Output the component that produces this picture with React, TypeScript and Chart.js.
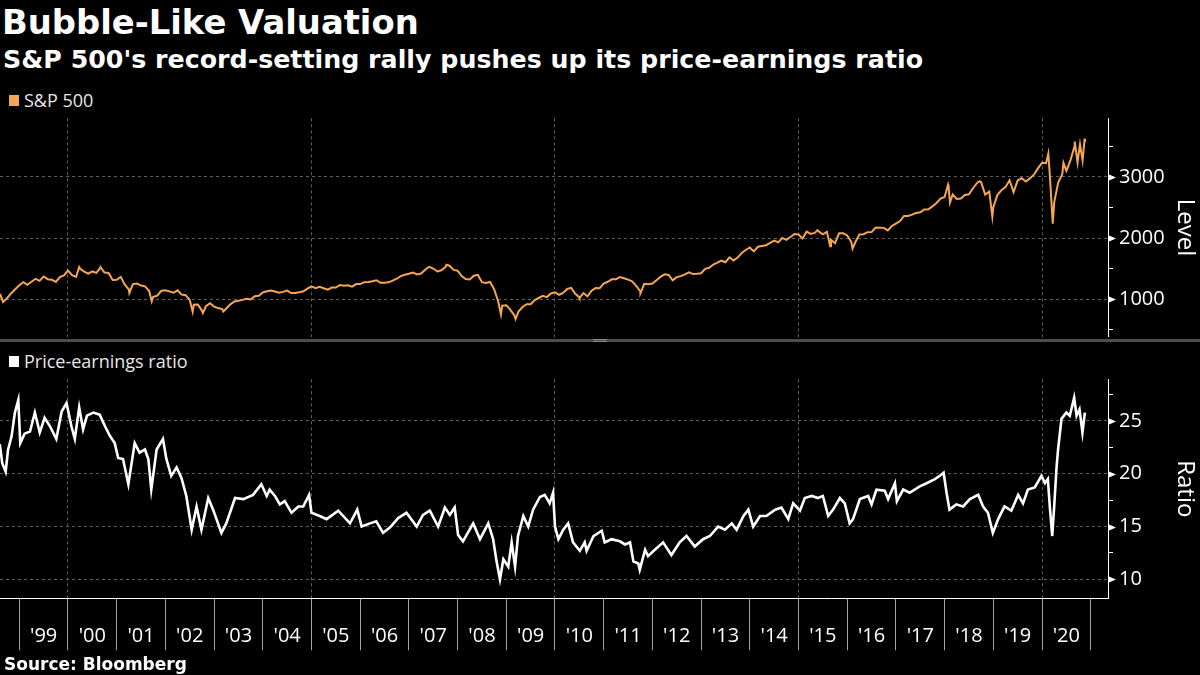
import React, { useEffect, useRef } from 'react';
import { Chart, registerables } from 'chart.js';

Chart.register(...registerables);

// ---------- axis range (decimal years) ----------
const X_MIN = 1998.604;
const X_MAX = 2021.355;

const yearTicks = [1999, 2000, 2001, 2002, 2003, 2004, 2005, 2006, 2007, 2008, 2009, 2010, 2011, 2012, 2013, 2014, 2015, 2016, 2017, 2018, 2019, 2020, 2021];
const yearLabels = ["'99", "'00", "'01", "'02", "'03", "'04", "'05", "'06", "'07", "'08", "'09", "'10", "'11", "'12", "'13", "'14", "'15", "'16", "'17", "'18", "'19", "'20"];
const gridYears = [2000, 2005, 2010, 2015, 2020];

const levelTicks = [500, 1000, 1500, 2000, 2500, 3000, 3500];
const levelLabels = ['', '1000', '', '2000', '', '3000', ''];
const levelMajor = [1000, 2000, 3000];
const ratioTicks = [10, 12.5, 15, 17.5, 20, 22.5, 25, 27.5];
const ratioLabels = ['10', '', '15', '', '20', '', '25', ''];
const ratioMajor = [10, 15, 20, 25];

// ---------- S&P 500 (month-end levels, Aug 1998 .. Oct 2020) ----------
const spxFirstYear = 1998;
const spxFirstMonth = 8;
const spxMonthEnd = [
  957, 1017, 1099, 1164, 1229,
  1280, 1238, 1286, 1335, 1302, 1373, 1329, 1320, 1283, 1363, 1389, 1469,
  1394, 1366, 1499, 1452, 1421, 1455, 1431, 1518, 1437, 1429, 1315, 1320,
  1366, 1240, 1160, 1249, 1256, 1224, 1211, 1134, 1041, 1060, 1139, 1148,
  1130, 1107, 1147, 1077, 1067, 990, 912, 916, 815, 886, 936, 880,
  856, 841, 848, 917, 964, 975, 990, 1008, 996, 1051, 1058, 1112,
  1131, 1145, 1126, 1107, 1121, 1141, 1102, 1104, 1115, 1130, 1174, 1212,
  1181, 1204, 1181, 1157, 1192, 1191, 1234, 1220, 1229, 1207, 1249, 1248,
  1280, 1281, 1295, 1311, 1270, 1270, 1277, 1304, 1336, 1378, 1401, 1418,
  1438, 1407, 1421, 1482, 1531, 1503, 1455, 1474, 1527, 1549, 1481, 1468,
  1379, 1331, 1323, 1386, 1400, 1280, 1267, 1283, 1165, 969, 896, 903,
  826, 735, 798, 873, 919, 919, 987, 1021, 1057, 1036, 1096, 1115,
  1074, 1104, 1169, 1187, 1089, 1031, 1102, 1049, 1141, 1183, 1181, 1258,
  1286, 1327, 1326, 1364, 1345, 1321, 1292, 1219, 1131, 1253, 1247, 1258,
  1312, 1366, 1408, 1398, 1310, 1362, 1379, 1407, 1441, 1412, 1416, 1426,
  1498, 1515, 1569, 1598, 1631, 1606, 1686, 1633, 1682, 1757, 1806, 1848,
  1783, 1859, 1872, 1884, 1924, 1960, 1931, 2003, 1972, 2018, 2068, 2059,
  1995, 2105, 2068, 2086, 2107, 2063, 2104, 1972, 1920, 2079, 2080, 2044,
  1940, 1932, 2060, 2065, 2097, 2099, 2174, 2171, 2168, 2126, 2199, 2239,
  2279, 2364, 2363, 2384, 2412, 2423, 2470, 2472, 2519, 2575, 2648, 2674,
  2824, 2714, 2641, 2648, 2705, 2718, 2816, 2902, 2914, 2712, 2760, 2507,
  2704, 2784, 2834, 2946, 2752, 2942, 2980, 2926, 2977, 3038, 3141, 3231,
  3226, 2954, 2585, 2912, 3044, 3100, 3271, 3500, 3363, 3270,
];
// intra-month highs / lows visible on the chart
const spxExtraDates = [1998.604, 2000.23, 2000.672, 2001.26, 2001.72, 2002.56, 2002.77, 2003.19, 2007.77, 2008.89, 2009.19, 2010.505, 2011.755, 2015.39, 2015.65, 2016.11, 2018.07, 2018.11, 2018.72, 2018.98, 2020.13, 2020.22, 2020.44, 2020.672, 2020.73, 2020.78, 2020.875, 2020.882];
const spxExtraValues = [1089, 1527, 1521, 1103, 966, 797, 777, 800, 1565, 752, 677, 1022, 1099, 2131, 1867, 1829, 2873, 2581, 2930, 2351, 3386, 2237, 3232, 3580, 3237, 3535, 3627, 3567];

// ---------- Price-earnings ratio ----------
const peDates = [
  1998.60, 1998.65, 1998.72, 1998.77, 1998.84, 1998.91, 1998.98, 1999.02, 1999.11, 1999.22, 1999.32, 1999.42, 1999.52, 1999.63, 1999.76, 1999.87, 1999.97,
  2000.07, 2000.14, 2000.23, 2000.31, 2000.39, 2000.52, 2000.65, 2000.76, 2000.86, 2000.96,
  2001.03, 2001.13, 2001.24, 2001.37, 2001.47, 2001.58, 2001.65, 2001.71, 2001.82, 2001.95,
  2002.02, 2002.12, 2002.23, 2002.33, 2002.43, 2002.54, 2002.64, 2002.74, 2002.88, 2002.98,
  2003.15, 2003.25, 2003.43, 2003.60, 2003.80, 2003.97,
  2004.08, 2004.14, 2004.25, 2004.35, 2004.45, 2004.59, 2004.73, 2004.83, 2004.95,
  2005.00, 2005.17, 2005.31, 2005.55, 2005.79, 2005.94,
  2006.03, 2006.20, 2006.33, 2006.47, 2006.61, 2006.78, 2006.95,
  2007.16, 2007.29, 2007.43, 2007.60, 2007.74, 2007.84, 2007.94,
  2008.01, 2008.11, 2008.32, 2008.46, 2008.63, 2008.73, 2008.80, 2008.87, 2008.94,
  2009.04, 2009.11, 2009.18, 2009.24, 2009.35, 2009.45, 2009.55, 2009.69, 2009.79, 2009.89, 2009.96,
  2010.00, 2010.07, 2010.17, 2010.27, 2010.37, 2010.51, 2010.61, 2010.65, 2010.79, 2010.96,
  2011.02, 2011.16, 2011.33, 2011.44, 2011.54, 2011.61, 2011.71, 2011.74, 2011.85, 2011.91,
  2012.05, 2012.22, 2012.39, 2012.56, 2012.70, 2012.87,
  2013.04, 2013.18, 2013.35, 2013.49, 2013.63, 2013.73, 2013.87, 2013.97,
  2014.07, 2014.21, 2014.34, 2014.52, 2014.65, 2014.79, 2014.89,
  2015.03, 2015.13, 2015.27, 2015.40, 2015.50, 2015.61, 2015.71, 2015.85, 2015.95,
  2016.05, 2016.12, 2016.26, 2016.43, 2016.50, 2016.60, 2016.77, 2016.84, 2016.98,
  2017.02, 2017.15, 2017.28, 2017.49, 2017.63, 2017.80, 2017.93, 2017.98,
  2018.04, 2018.10, 2018.24, 2018.38, 2018.52, 2018.69, 2018.79, 2018.89, 2018.99,
  2019.10, 2019.23, 2019.37, 2019.51, 2019.61, 2019.71, 2019.85, 2019.99,
  2020.06, 2020.12, 2020.16, 2020.21, 2020.25, 2020.30, 2020.33, 2020.40, 2020.50, 2020.57, 2020.66, 2020.71, 2020.77, 2020.83, 2020.88,
];
const peValues = [
  22.8, 21.0, 20.2, 22.3, 23.5, 25.8, 27.0, 22.9, 23.8, 24.0, 25.8, 23.9, 25.3, 24.5, 23.3, 25.9, 26.7,
  24.5, 23.3, 26.3, 24.2, 25.5, 25.8, 25.6, 24.5, 23.6, 22.9,
  21.5, 21.4, 19.0, 22.9, 22.0, 22.3, 21.4, 18.5, 22.3, 23.3,
  21.4, 19.8, 20.6, 19.6, 17.9, 14.7, 16.9, 14.7, 17.7, 16.6,
  14.4, 15.3, 17.7, 17.6, 18.0, 19.0,
  17.9, 18.5, 17.9, 17.1, 17.4, 16.3, 16.9, 16.9, 18.0,
  16.3, 16.0, 15.7, 16.5, 15.3, 16.6,
  15.0, 15.3, 15.5, 14.4, 14.9, 15.8, 16.3,
  15.0, 16.1, 16.5, 15.0, 16.8, 16.1, 16.8,
  14.2, 13.6, 15.3, 13.8, 15.3, 13.8, 11.7, 10.0, 11.9,
  11.2, 13.5, 11.2, 14.1, 16.0, 15.0, 16.6, 17.8, 18.0, 17.2, 18.2,
  15.0, 13.8, 14.7, 15.3, 13.5, 12.7, 13.5, 12.7, 14.1, 14.6,
  13.5, 13.8, 13.6, 13.3, 13.5, 11.7, 11.5, 10.9, 12.8, 12.2,
  12.8, 13.5, 12.3, 13.5, 14.1, 13.1,
  13.8, 14.1, 15.0, 14.7, 15.3, 14.7, 16.0, 16.6,
  15.0, 16.0, 16.0, 16.6, 16.8, 15.7, 17.2,
  16.5, 17.7, 17.9, 17.7, 17.9, 16.0, 16.6, 17.7, 17.2,
  15.3, 15.7, 17.6, 17.9, 17.1, 18.5, 18.4, 17.6, 19.1,
  17.4, 18.5, 18.2, 18.8, 19.1, 19.5, 19.9, 20.1,
  18.2, 16.6, 17.1, 16.9, 17.6, 18.0, 16.9, 16.3, 14.4,
  15.7, 16.9, 16.5, 18.0, 17.2, 18.5, 18.7, 19.8,
  19.1, 19.5, 16.9, 14.1, 16.9, 20.7, 22.3, 25.2, 25.8, 25.5, 27.2, 25.5, 26.1, 23.9, 25.8,
];

// ---------- styling ----------
const FONT = "'Open Sans', 'DejaVu Sans', sans-serif";
const HEAD_FONT = "'DejaVu Sans', Verdana, sans-serif";
const ORANGE = '#f6a650';
const GRID = '#5e5e5e';
const AXIS_W = 92;

const tickArrows = {
  id: 'tickArrows',
  afterDraw(chart: any, _args: any, opts: any) {
    const s = chart.scales.y;
    const ctx = chart.ctx;
    ctx.save();
    ctx.fillStyle = '#ffffff';
    for (const v of opts.values || []) {
      const y = Math.round(s.getPixelForValue(v)) + 0.5;
      const x = s.left + 1;
      ctx.beginPath();
      ctx.moveTo(x, y - 3);
      ctx.lineTo(x + 7, y);
      ctx.lineTo(x, y + 3);
      ctx.closePath();
      ctx.fill();
    }
    ctx.restore();
  },
};

function buildSpx() {
  const pts: { x: number; y: number }[] = [];
  spxMonthEnd.forEach((v, i) => {
    const m = spxFirstMonth + i;
    pts.push({ x: spxFirstYear + m / 12, y: v });
  });
  spxExtraDates.forEach((d, i) => pts.push({ x: d, y: spxExtraValues[i] }));
  pts.sort((a, b) => a.x - b.x);
  return pts;
}

function yAxis(title: string, min: number, max: number, ticks: number[], labels: string[]) {
  return {
    position: 'right',
    min,
    max,
    afterBuildTicks: (s: any) => {
      s.ticks = ticks.map((v) => ({ value: v }));
    },
    afterFit: (s: any) => {
      s.width = AXIS_W;
    },
    ticks: {
      color: '#ffffff',
      font: { family: FONT, size: 20 },
      padding: 6,
      callback: (v: number) => {
        const i = ticks.indexOf(v);
        return i >= 0 ? labels[i] : '';
      },
    },
    grid: {
      color: (ctx: any) => {
        const i = ctx.tick ? ticks.indexOf(ctx.tick.value) : -1;
        return i >= 0 && labels[i] !== '' ? GRID : 'transparent';
      },
      tickColor: '#ffffff',
      tickLength: 5,
      lineWidth: 1,
    },
    border: { display: true, color: '#ffffff', width: 1, dash: [3, 3] },
    title: {
      display: true,
      text: title,
      color: '#ffffff',
      font: { family: FONT, size: 24 },
      padding: { top: 1, bottom: 0 },
    },
  };
}

export default function App() {
  const topRef = useRef<HTMLCanvasElement>(null);
  const botRef = useRef<HTMLCanvasElement>(null);

  useEffect(() => {
    const top = new Chart(topRef.current as HTMLCanvasElement, {
      type: 'line',
      data: {
        datasets: [
          {
            label: 'S&P 500',
            data: buildSpx(),
            borderColor: ORANGE,
            borderWidth: 2,
            pointRadius: 0,
            tension: 0,
          },
        ],
      },
      options: {
        animation: false,
        responsive: false,
        maintainAspectRatio: false,
        devicePixelRatio: 1,
        layout: { padding: { top: 24.3, bottom: 24.3, left: 0, right: 0 } },
        plugins: {
          legend: { display: false },
          tooltip: { enabled: false },
          tickArrows: { values: levelMajor },
        } as any,
        scales: {
          x: {
            type: 'linear',
            min: X_MIN,
            max: X_MAX,
            afterBuildTicks: (s: any) => {
              s.ticks = gridYears.map((v) => ({ value: v }));
            },
            ticks: { display: false },
            grid: { color: GRID, drawTicks: false, lineWidth: 1 },
            border: { display: false, dash: [3, 3] },
          },
          y: yAxis('Level', 388, 3960, levelTicks, levelLabels) as any,
        },
      },
      plugins: [tickArrows],
    });

    const peData = peDates.map((d, i) => ({ x: d, y: peValues[i] }));
    const bottom = new Chart(botRef.current as HTMLCanvasElement, {
      type: 'line',
      data: {
        datasets: [
          {
            label: 'Price-earnings ratio',
            data: peData,
            borderColor: '#ffffff',
            borderWidth: 2.6,
            pointRadius: 0,
            tension: 0,
          },
        ],
      },
      options: {
        animation: false,
        responsive: false,
        maintainAspectRatio: false,
        devicePixelRatio: 1,
        layout: { padding: { top: 24.3, bottom: 0, left: 0, right: 0 } },
        plugins: {
          legend: { display: false },
          tooltip: { enabled: false },
          tickArrows: { values: ratioMajor },
        } as any,
        scales: {
          x: {
            type: 'linear',
            min: X_MIN,
            max: X_MAX,
            afterBuildTicks: (s: any) => {
              s.ticks = yearTicks.map((v) => ({ value: v }));
            },
            afterFit: (s: any) => {
              s.height = 60.7;
            },
            ticks: {
              autoSkip: false,
              maxRotation: 0,
              minRotation: 0,
              color: '#ffffff',
              font: { family: FONT, size: 20 },
              padding: -26,
              labelOffset: 24.35,
              callback: (v: number) => {
                const i = yearTicks.indexOf(v);
                return i >= 0 && i < yearLabels.length ? yearLabels[i] : '';
              },
            },
            grid: {
              color: (ctx: any) => (ctx.tick && gridYears.includes(ctx.tick.value) ? GRID : 'transparent'),
              tickColor: '#a0a0a0',
              tickLength: 52,
              lineWidth: 1,
            },
            border: { display: true, color: '#ffffff', width: 1, dash: [3, 3] },
          },
          y: yAxis('Ratio', 8.2, 28.95, ratioTicks, ratioLabels) as any,
        },
      },
      plugins: [tickArrows],
    });

    return () => {
      top.destroy();
      bottom.destroy();
    };
  }, []);

  const text: React.CSSProperties = { position: 'absolute', fontFamily: FONT, lineHeight: 1, whiteSpace: 'nowrap', margin: 0 };
  const head: React.CSSProperties = { ...text, fontFamily: HEAD_FONT, fontWeight: 700, color: '#fff' };

  return (
    <div style={{ position: 'fixed', left: 0, top: 0, width: 1200, height: 675, background: '#000', overflow: 'hidden' }}>
      <div style={{ ...head, left: 2, top: 6, fontSize: 33.8 }}>Bubble-Like Valuation</div>
      <div style={{ ...head, left: 3, top: 47, fontSize: 25.3 }}>
        S&amp;P 500's record-setting rally pushes up its price-earnings ratio
      </div>

      <div style={{ position: 'absolute', left: 9, top: 95, width: 10, height: 11, background: ORANGE }} />
      <div style={{ ...text, left: 24, top: 90.5, fontSize: 18, color: '#e6e6e6' }}>S&amp;P 500</div>

      <div style={{ position: 'absolute', left: 0, top: 339, width: 1200, height: 3, background: '#4c4c4c' }} />
      <div style={{ position: 'absolute', left: 593, top: 339, width: 14, height: 1, background: '#8a8a8a' }} />
      <div style={{ position: 'absolute', left: 593, top: 341, width: 14, height: 1, background: '#8a8a8a' }} />

      <div style={{ position: 'absolute', left: 9, top: 356, width: 10, height: 11, background: '#ffffff' }} />
      <div style={{ ...text, left: 24, top: 351.7, fontSize: 18, color: '#e6e6e6' }}>Price-earnings ratio</div>

      <canvas ref={topRef} width={1200} height={267} style={{ position: 'absolute', left: 0, top: 94, width: 1200, height: 267 }} />
      <canvas ref={botRef} width={1200} height={304} style={{ position: 'absolute', left: 0, top: 355, width: 1200, height: 304 }} />

      <div style={{ ...head, left: 4, top: 656, fontSize: 17 }}>Source: Bloomberg</div>
    </div>
  );
}
